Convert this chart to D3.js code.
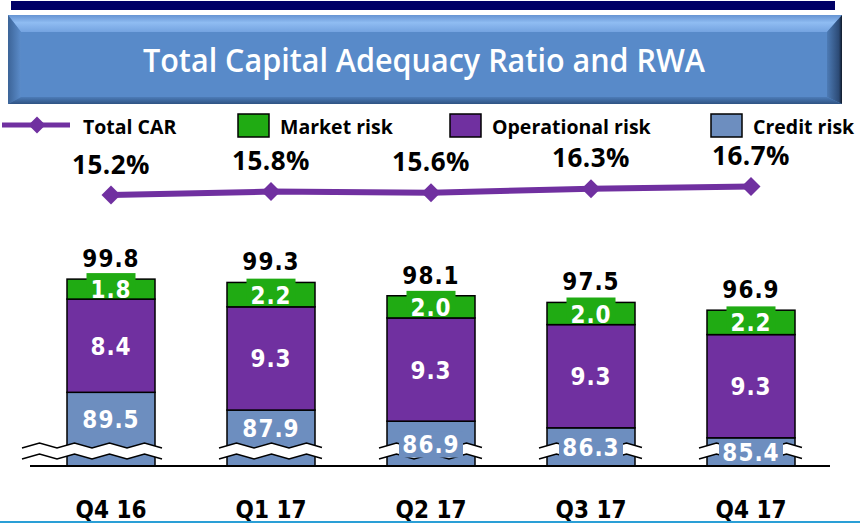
<!DOCTYPE html>
<html>
<head>
<meta charset="utf-8">
<script src="https://cdn.jsdelivr.net/npm/d3@7"></script>
<style>
  body { margin: 0; background: #fff; }
  svg { display: block; }
</style>
</head>
<body>
<svg id="chart" width="860" height="523"></svg>
<script>
// data
var quarters = ["Q4 16", "Q1 17", "Q2 17", "Q3 17", "Q4 17"];
var creditRisk = [89.5, 87.9, 86.9, 86.3, 85.4];
var operationalRisk = [8.4, 9.3, 9.3, 9.3, 9.3];
var marketRisk = [1.8, 2.2, 2.0, 2.0, 2.2];
var totalRwa = [99.8, 99.3, 98.1, 97.5, 96.9];
var totalCar = [15.2, 15.8, 15.6, 16.3, 16.7];
var legendNames = ["Total CAR", "Market risk", "Operational risk", "Credit risk"];

var colors = { credit: "#6d8ebf", operational: "#7030a0", market: "#20ab13" };
var numFont = "'DejaVu Sans Condensed', 'DejaVu Sans', sans-serif";
var txtFont = "'Open Sans', sans-serif";

var svg = d3.select("svg#chart");
var defs = svg.append("defs");

function grad(id, x2, y2, stops) {
    var g = defs.append("linearGradient").attr("id", id)
        .attr("x1", 0).attr("y1", 0).attr("x2", x2).attr("y2", y2);
    stops.forEach(function (s) {
        g.append("stop").attr("offset", s[0]).attr("stop-color", s[1]);
    });
}
grad("bevTop", 0, 1, [[0, "#6593d2"], [0.45, "#8fbcf2"], [1, "#74a3e0"]]);
grad("bevLeft", 1, 0, [[0, "#3c6498"], [1, "#5b8cca"]]);
grad("bevRight", 1, 0, [[0, "#4d7bb5"], [0.8, "#2c4a75"], [1, "#101a2a"]]);
grad("bevBottom", 0, 1, [[0, "#4d7cb8"], [1, "#2f5383"]]);

// navy strip + bevelled title box
svg.append("rect").attr("x", 11).attr("y", 1).attr("width", 824).attr("height", 9).attr("fill", "#000066");

var bx0 = 8, by0 = 15, bx1 = 842, by1 = 104, bev = 13, bevTop = 17, bevBot = 7;
svg.append("rect").attr("x", bx0).attr("y", by0).attr("width", bx1 - bx0).attr("height", by1 - by0).attr("fill", "#588ac9");
var pts = function (a) { return a.map(function (p) { return p.join(","); }).join(" "); };
svg.append("polygon").attr("fill", "url(#bevTop)")
    .attr("points", pts([[bx0, by0], [bx1, by0], [bx1 - bev - 2, by0 + bevTop], [bx0 + bev, by0 + bevTop]]));
svg.append("polygon").attr("fill", "url(#bevLeft)")
    .attr("points", pts([[bx0, by0], [bx0 + bev, by0 + bevTop], [bx0 + bev, by1 - bevBot], [bx0, by1]]));
svg.append("polygon").attr("fill", "url(#bevRight)")
    .attr("points", pts([[bx1, by0], [bx1, by1], [bx1 - bev - 2, by1 - bevBot], [bx1 - bev - 2, by0 + bevTop]]));
svg.append("polygon").attr("fill", "url(#bevBottom)")
    .attr("points", pts([[bx0, by1], [bx0 + bev, by1 - bevBot], [bx1 - bev - 2, by1 - bevBot], [bx1, by1]]));

svg.append("text")
    .attr("x", 424).attr("y", 72)
    .attr("text-anchor", "middle")
    .attr("font-family", txtFont).attr("font-weight", 600).attr("font-size", 32)
    .attr("textLength", 562).attr("lengthAdjust", "spacingAndGlyphs")
    .attr("fill", "#fff")
    .text("Total Capital Adequacy Ratio and RWA");

// scales
var x = d3.scaleBand().domain(quarters).range([31, 831]).paddingInner(0.45).paddingOuter(0.225);
var y = d3.scaleLinear().domain([82.86, 99.8]).range([466, 278]).clamp(true);
var yCar = d3.scaleLinear().domain([15.2, 16.7]).range([195, 186.5]);
var cx = function (q) { return x(q) + x.bandwidth() / 2; };

var rows = quarters.map(function (q, i) {
    return { q: q, credit: creditRisk[i], operational: operationalRisk[i], market: marketRisk[i] };
});
var stack = d3.stack().keys(["credit", "operational", "market"])(rows);

// stacked bars
var layers = svg.append("g").selectAll("g")
    .data(stack).enter().append("g")
    .attr("fill", function (d) { return colors[d.key]; });

layers.selectAll("rect")
    .data(function (d) { return d; })
    .enter().append("rect")
    .attr("x", function (d) { return x(d.data.q); })
    .attr("y", function (d) { return y(d[1]); })
    .attr("width", x.bandwidth())
    .attr("height", function (d) { return y(d[0]) - y(d[1]); })
    .attr("stroke", "#000").attr("stroke-width", 1.5);

// axis break (zig-zag band)
function zig(x0, x1, yTop) {
    var p = [], k = 0, xx = x0;
    while (xx < x1) {
        p.push([xx, k % 2 === 0 ? yTop + 5 : yTop]);
        k++; xx = x0 + k * 17.5;
    }
    var last = p[p.length - 1];
    var t = (x1 - last[0]) / 17.5;
    var nextY = k % 2 === 0 ? yTop + 5 : yTop;
    p.push([x1, last[1] + (nextY - last[1]) * t]);
    return p;
}
var brk = svg.append("g");
quarters.forEach(function (q, i) {
    var x0 = i === 0 ? x(q) - 45 : x(q) - 8;
    var x1 = x(q) + x.bandwidth() + 7;
    var up = zig(x0, x1, 443), lo = zig(x0, x1, 454);
    brk.append("polygon").attr("fill", "#fff")
        .attr("points", pts(up.concat(lo.slice().reverse())));
    [up, lo].forEach(function (l) {
        brk.append("path").attr("d", d3.line()(l))
            .attr("fill", "none").attr("stroke", "#000").attr("stroke-width", 1.5);
    });
});

// baseline
svg.append("line").attr("x1", 30).attr("x2", 830).attr("y1", y(0)).attr("y2", y(0))
    .attr("stroke", "#000").attr("stroke-width", 2);

// segment labels
var lab = svg.append("g")
    .attr("font-family", numFont).attr("font-stretch", "condensed")
    .attr("font-weight", "bold").attr("font-size", 24)
    .attr("text-anchor", "middle");

stack.forEach(function (layer) {
    layer.forEach(function (d) {
        var top = y(d[1]), bot = y(d[0]);
        var c = (top + bot) / 2, box = null;
        if (layer.key === "credit") {
            if (bot - top > 50) { c = (top + 446) / 2; }
            else { box = [c - 12, Math.min(c + 14, bot - 1)]; }
        }
        if (layer.key === "market") { box = [c - 16, c + 8]; }
        if (box) {
            var w = layer.key === "market" ? 49 : 64;
            lab.append("rect").attr("x", cx(d.data.q) - w / 2).attr("y", box[0])
                .attr("width", w).attr("height", box[1] - box[0]).attr("fill", colors[layer.key]);
        }
        lab.append("text").attr("x", cx(d.data.q)).attr("y", c + 9)
            .attr("fill", "#fff").attr("letter-spacing", 1)
            .text(d.data[layer.key].toFixed(1));
    });
});

// totals on top
lab.selectAll("text.total")
    .data(quarters).enter().append("text").attr("class", "total")
    .attr("x", cx)
    .attr("y", function (q, i) { return y(stack[2][i][1]) - 12; })
    .attr("fill", "#000").attr("letter-spacing", 1)
    .text(function (q, i) { return totalRwa[i].toFixed(1); });

// category labels
lab.selectAll("text.cat")
    .data(quarters).enter().append("text").attr("class", "cat")
    .attr("x", cx).attr("y", 518)
    .attr("fill", "#000")
    .text(function (q) { return q; });

// Total CAR line
var carPts = quarters.map(function (q, i) { return [cx(q), yCar(totalCar[i])]; });
svg.append("path").attr("d", d3.line()(carPts))
    .attr("fill", "none").attr("stroke", colors.operational).attr("stroke-width", 6);
var diamond = d3.symbol().type(d3.symbolSquare).size(180);
svg.append("g").selectAll("path").data(carPts).enter().append("path")
    .attr("d", diamond)
    .attr("transform", function (p) { return "translate(" + p[0] + "," + p[1] + ") rotate(45)"; })
    .attr("fill", colors.operational);
svg.append("g").selectAll("text").data(carPts).enter().append("text")
    .attr("x", function (p) { return p[0]; })
    .attr("y", function (p) { return p[1] - 21.5; })
    .attr("text-anchor", "middle")
    .attr("font-family", txtFont).attr("font-weight", "bold").attr("font-size", 26)
    .attr("letter-spacing", 0.5)
    .text(function (p, i) { return totalCar[i].toFixed(1) + "%"; });

// legend
var legendX = [83, 280, 492, 753];
var legendFill = [null, colors.market, colors.operational, colors.credit];
var leg = svg.append("g");
leg.append("line").attr("x1", 2).attr("x2", 70).attr("y1", 125).attr("y2", 125)
    .attr("stroke", colors.operational).attr("stroke-width", 5);
leg.append("path").attr("d", d3.symbol().type(d3.symbolSquare).size(145))
    .attr("transform", "translate(37,125) rotate(45)").attr("fill", colors.operational);
legendNames.forEach(function (n, i) {
    if (legendFill[i]) {
        leg.append("rect").attr("x", legendX[i] - 42).attr("y", 114)
            .attr("width", 31).attr("height", 23)
            .attr("fill", legendFill[i]).attr("stroke", "#000").attr("stroke-width", 1.5);
    }
    leg.append("text").attr("x", legendX[i]).attr("y", 133.5)
        .attr("font-family", txtFont).attr("font-weight", "bold").attr("font-size", 19.5)
        .attr("fill", "#000").text(n);
});

// thin rule at the bottom of the slide
svg.append("line").attr("x1", 0).attr("x2", 860).attr("y1", 522).attr("y2", 522)
    .attr("stroke", "#2a9fd6").attr("stroke-width", 2);
</script>
</body>
</html>
